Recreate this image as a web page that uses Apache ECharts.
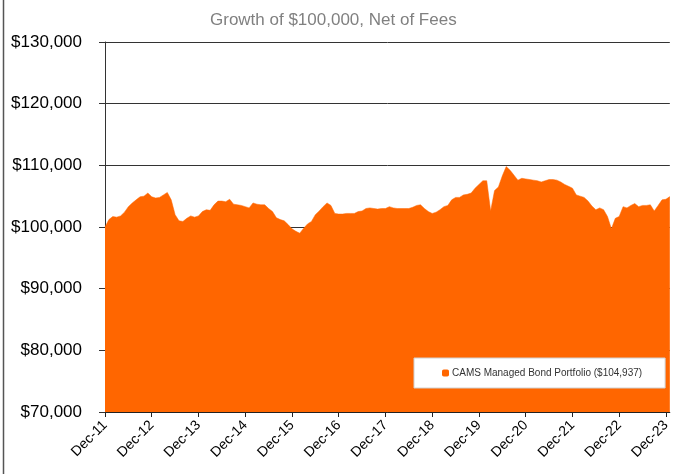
<!DOCTYPE html>
<html>
<head>
<meta charset="utf-8">
<script src="https://cdn.jsdelivr.net/npm/echarts@6/dist/echarts.min.js"></script>
<style>
  html, body { margin: 0; padding: 0; background: #fff; }
  #chart { width: 673px; height: 474px; }
</style>
</head>
<body>
<div id="chart"></div>
<script>
// month-end values of the portfolio, Dec-11 .. Jan-24
const values = [
  100000, 101200, 101700, 101600, 101800, 102400, 103300, 103900, 104400, 104900, 105000, 105500,
  104900, 104700, 104800, 105200, 105600, 104400, 102000, 101000, 100900, 101400, 101800, 101600,
  101800, 102500, 102800, 102700, 103600, 104200, 104200, 104100, 104500, 103700, 103600, 103500,
  103300, 103100, 103900, 103700, 103600, 103600, 103000, 102500, 101500, 101200, 101000, 100400,
  99700, 99300, 99000, 99800, 100500, 100900, 102000, 102600, 103300, 103900, 103500, 102200,
  102100, 102100, 102200, 102200, 102200, 102500, 102600, 103000, 103100, 103000, 102900, 103000,
  103000, 103300, 103100, 103000, 103000, 103000, 103000, 103200, 103500, 103600, 103000, 102500,
  102200, 102400, 102800, 103300, 103500, 104400, 104800, 104800, 105200, 105300, 105500, 106300,
  106900, 107500, 107500, 102600, 105900, 106500, 108300, 109800, 109200, 108400, 107600, 107900,
  107800, 107700, 107600, 107500, 107300, 107500, 107700, 107700, 107600, 107300, 106900, 106600,
  106300, 105200, 105000, 104800, 104200, 103400, 102800, 103100, 102800, 101700, 99700, 101400,
  101700, 103300, 103100, 103500, 103800, 103300, 103500, 103500, 103600, 102600, 103500, 104400,
  104500, 104937
];
const monthNames = ['Jan', 'Feb', 'Mar', 'Apr', 'May', 'Jun', 'Jul', 'Aug', 'Sep', 'Oct', 'Nov', 'Dec'];
const startYear = 2011;
const startMonth = 11; // Dec
const seriesName = 'CAMS Managed Bond Portfolio ($104,937)';
const titleText = 'Growth of $100,000, Net of Fees';
const yMin = 70000, yMax = 130000, yStep = 10000;

// category labels like "Dec-11"
const months = values.map((v, i) => {
  const m = (startMonth + i) % 12;
  const y = startYear + Math.floor((startMonth + i) / 12);
  return monthNames[m] + '-' + String(y).slice(2);
});

const font = 'Liberation Sans, Arial, sans-serif';
const chart = echarts.init(document.getElementById('chart'));
chart.setOption({
  animation: false,
  title: {
    text: titleText,
    left: 205,
    top: 7,
    textStyle: { color: '#808080', fontSize: 17, fontWeight: 'normal', fontFamily: font }
  },
  grid: { left: 105, top: 42, right: 1, bottom: 62 },
  legend: {
    left: 414,
    top: 358,
    padding: [10, 23, 10, 28],
    backgroundColor: '#fff',
    borderColor: '#d0d0d0',
    borderWidth: 1,
    borderRadius: 0,
    itemWidth: 7,
    itemHeight: 7,
    icon: 'roundRect',
    textStyle: { color: '#333', fontSize: 10, fontFamily: font, padding: [0, 0, 0, -2] },
    data: [seriesName]
  },
  xAxis: {
    type: 'category',
    data: months,
    boundaryGap: false,
    axisLine: { lineStyle: { color: '#222' } },
    axisTick: { length: 5, interval: (i) => i % 12 === 0, lineStyle: { color: '#222' } },
    axisLabel: {
      rotate: 45,
      interval: (i) => i % 12 === 0,
      color: '#000',
      fontSize: 14,
      fontFamily: font,
      margin: 11
    },
    splitLine: { show: false }
  },
  yAxis: {
    type: 'value',
    min: yMin,
    max: yMax,
    interval: yStep,
    axisLine: { show: true, lineStyle: { color: '#333' } },
    axisTick: { show: true, length: 6, lineStyle: { color: '#333' } },
    axisLabel: {
      color: '#000',
      fontSize: 17,
      fontFamily: font,
      margin: 23,
      formatter: (v) => '$' + v.toLocaleString('en-US')
    },
    splitLine: { lineStyle: { color: '#333', width: 1 } }
  },
  graphic: [
    {
      type: 'line',
      shape: { x1: 3.5, y1: 0, x2: 3.5, y2: 474 },
      style: { stroke: '#555', lineWidth: 1.5 }
    }
  ],
  series: [
    {
      name: seriesName,
      type: 'line',
      data: values,
      showSymbol: false,
      symbol: 'none',
      color: '#FF6600',
      lineStyle: { width: 0.5, color: '#FF6600' },
      areaStyle: { color: '#FF6600', opacity: 1 }
    }
  ]
});
</script>
</body>
</html>
